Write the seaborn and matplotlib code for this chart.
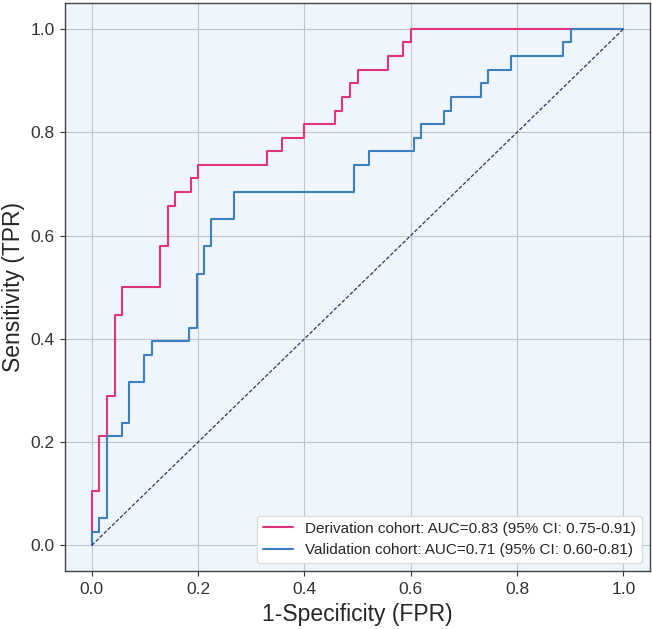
import numpy as np
import pandas as pd
import matplotlib
matplotlib.use("Agg")
import matplotlib.pyplot as plt
import seaborn as sns

# ROC step points (FPR, TPR)
deriv_fpr = [0.0, 0.0, 0.014, 0.014, 0.029, 0.029, 0.043, 0.043, 0.057, 0.057,
             0.129, 0.129, 0.143, 0.143, 0.157, 0.157, 0.186, 0.186, 0.2, 0.2,
             0.329, 0.329, 0.357, 0.357, 0.4, 0.4, 0.457, 0.457, 0.471, 0.471,
             0.486, 0.486, 0.5, 0.5, 0.557, 0.557, 0.586, 0.586, 0.6, 0.6, 1.0]
deriv_tpr = [0.0, 0.105, 0.105, 0.211, 0.211, 0.289, 0.289, 0.447, 0.447, 0.5,
             0.5, 0.579, 0.579, 0.658, 0.658, 0.684, 0.684, 0.711, 0.711, 0.737,
             0.737, 0.763, 0.763, 0.789, 0.789, 0.816, 0.816, 0.842, 0.842, 0.868,
             0.868, 0.895, 0.895, 0.921, 0.921, 0.947, 0.947, 0.974, 0.974, 1.0, 1.0]

valid_fpr = [0.0, 0.0, 0.014, 0.014, 0.028, 0.028, 0.056, 0.056, 0.070, 0.070,
             0.099, 0.099, 0.113, 0.113, 0.183, 0.183, 0.197, 0.197, 0.211, 0.211,
             0.225, 0.225, 0.268, 0.268, 0.493, 0.493, 0.521, 0.521, 0.606, 0.606,
             0.620, 0.620, 0.662, 0.662, 0.676, 0.676, 0.732, 0.732, 0.746, 0.746,
             0.789, 0.789, 0.887, 0.887, 0.901, 0.901, 1.0]
valid_tpr = [0.0, 0.026, 0.026, 0.053, 0.053, 0.211, 0.211, 0.237, 0.237, 0.316,
             0.316, 0.368, 0.368, 0.395, 0.395, 0.421, 0.421, 0.526, 0.526, 0.579,
             0.579, 0.632, 0.632, 0.684, 0.684, 0.737, 0.737, 0.763, 0.763, 0.789,
             0.789, 0.816, 0.816, 0.842, 0.842, 0.868, 0.868, 0.895, 0.895, 0.921,
             0.921, 0.947, 0.947, 0.974, 0.974, 1.0, 1.0]

deriv_label = "Derivation cohort: AUC=0.83 (95% CI: 0.75\u20110.91)"
valid_label = "Validation cohort: AUC=0.71 (95% CI: 0.60\u20110.81)"
ticks = [0.0, 0.2, 0.4, 0.6, 0.8, 1.0]

sns.set_style("whitegrid", {
    "axes.facecolor": "#EEF5FC",
    "axes.edgecolor": "#444444",
    "grid.color": "#c4c4c4",
    "xtick.bottom": True,
    "ytick.left": True,
})
plt.rcParams["font.family"] = ["Liberation Sans", "DejaVu Sans"]
plt.rcParams["xtick.major.size"] = 3.5
plt.rcParams["ytick.major.size"] = 3.5
plt.rcParams["xtick.color"] = "#333333"
plt.rcParams["ytick.color"] = "#333333"

df_d = pd.DataFrame({"fpr": deriv_fpr, "tpr": deriv_tpr})
df_v = pd.DataFrame({"fpr": valid_fpr, "tpr": valid_tpr})

fig, ax = plt.subplots(figsize=(6.52, 6.29), dpi=100)
fig.subplots_adjust(left=0.1, right=0.997, top=0.995, bottom=0.092)

sns.lineplot(data=df_d, x="fpr", y="tpr", sort=False, estimator=None,
             color="#E0347F", lw=1.5, label=deriv_label, ax=ax)
sns.lineplot(data=df_v, x="fpr", y="tpr", sort=False, estimator=None,
             color="#3A80C2", lw=1.5, label=valid_label, ax=ax)
ax.plot([0, 1], [0, 1], linestyle="--", color="#2F3566", lw=0.9, dashes=(3, 1.5))

ax.set_xlim(-0.05, 1.05)
ax.set_ylim(-0.05, 1.05)
ax.set_xticks(ticks)
ax.set_yticks(ticks)
ax.tick_params(labelsize=12.5, pad=4)
ax.set_xlabel("1-Specificity (FPR)", fontsize=16.5, labelpad=5)
ax.set_ylabel("Sensitivity (TPR)", fontsize=16.5, labelpad=4)
for s in ax.spines.values():
    s.set_linewidth(1.0)

leg = ax.legend(loc="lower right", fontsize=11, frameon=True, facecolor="white",
                edgecolor="#dddddd", framealpha=1.0)

fig.savefig("out.png", dpi=100)
